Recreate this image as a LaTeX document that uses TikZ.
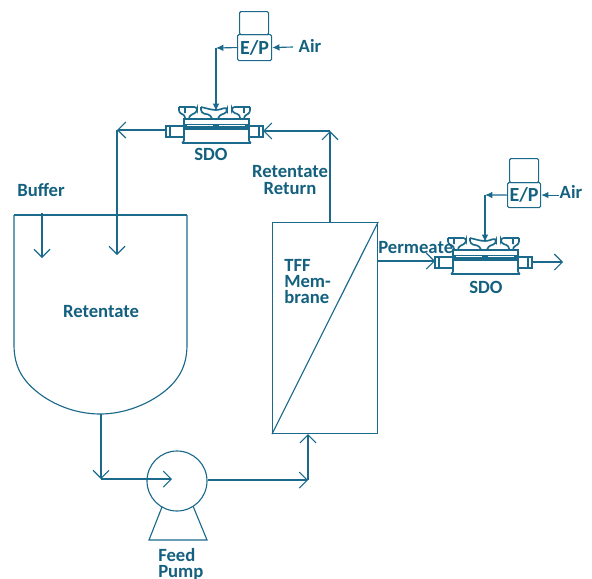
\documentclass[tikz,border=0pt]{standalone}
\usepackage{fontspec}
\setmainfont{Carlito}
\usetikzlibrary{arrows.meta}
\definecolor{ink}{HTML}{1B6A8C}
\definecolor{txt}{HTML}{14607F}
\tikzset{
  line/.style={draw=ink,line width=0.85pt},
  heavy/.style={draw=ink,line width=1.25pt},
  flow/.style={line,-{Straight Barb[length=6pt,width=12pt,line width=0.8pt]}},
  smallflow/.style={line,-{Latex[length=5.5pt,width=5pt]}},
  lab/.style={font=\bfseries\fontsize{14}{12}\selectfont,text=txt,inner sep=0pt},
  box/.style={line,rounded corners=1pt,inner sep=0pt,anchor=north west},
  sdounit/.pic={
    % lower body with feet
    \draw[heavy,rounded corners=0.6pt] (-34,12) -- (-32,10) -- (-32,-2) -- (33,-2) -- (33,10) -- (35,12) -- cycle;
    % upper plate with thick band
    \draw[heavy] (-32,-7) -- (-32,-12) -- (33,-12) -- (33,-7);
    \fill[ink] (-33,-7) rectangle (34,-3);
    \fill[white] (-29,-5.6) rectangle (-3,-4.6);
    \fill[white] (3,-5.6) rectangle (29,-4.6);
    % ports
    \draw[heavy] (-50,-5) rectangle (-32,6);
    \draw[heavy] (-46,-5) -- (-46,6);
    \draw[heavy] (33,-5) rectangle (47,6);
    \draw[heavy] (43,-5) -- (43,6);
    % knobs
    \draw[heavy,rounded corners=2pt] (-37,-24) -- (-19,-24) -- (-19,-19) -- (-27,-15) -- (-27,-12) (-37,-24) -- (-37,-18) -- (-31,-16) -- (-31,-12) (-31,-24) -- (-31,-18);
    \draw[heavy,rounded corners=2pt] (34,-24) -- (16,-24) -- (16,-19) -- (24,-16) -- (24,-12) (34,-24) -- (34,-18) -- (28,-15) -- (28,-12) (28,-24) -- (28,-18);
    \draw[heavy,rounded corners=2.5pt] (-15,-24) -- (-3,-21) -- (3,-21) -- (11,-24) -- (11,-18) -- (3,-16) -- (2,-12) (-15,-24) -- (-15,-18) -- (-5,-16) -- (-4,-12);
    \coordinate (-pl) at (-50,-1);
    \coordinate (-pr) at (47,0);
    \coordinate (-pt) at (0,-20);
  }
}
\begin{document}
\begin{tikzpicture}[x=0.75pt,y=-0.75pt]
\useasboundingbox (0,0) rectangle (592,578);
\clip (0,0) rectangle (592,578);
% SDO valves
\pic (a) at (216,131) {sdounit};
\pic (b) at (485,262) {sdounit};
% E/P top
\node[box,minimum width=29*0.75pt,minimum height=23*0.75pt] (ea) at (239,11) {};
\node[box,minimum width=34*0.75pt,minimum height=26*0.75pt,lab,font=\bfseries\fontsize{15}{12}\selectfont] (pa) at (237,34) {E/P};
\node[box,minimum width=29*0.75pt,minimum height=24*0.75pt] (eb) at (509,158) {};
\node[box,minimum width=33*0.75pt,minimum height=25*0.75pt,lab,font=\bfseries\fontsize{15}{12}\selectfont] (pb) at (507,182) {E/P};
% Labels
\node[lab] (aira) at (310,46) {Air};
\node[lab] (airb) at (571,192) {Air};
\node[lab] at (211,154) {SDO};
\node[lab] at (486,287) {SDO};
\node[lab,align=center] at (290,180) {Retentate\\[1pt]Return};
\node[lab] at (41,190) {Buffer};
\node[lab] at (101,312) {Retentate};
\node[lab,align=left,anchor=north west] at (284,259) {TFF\\Mem-\\brane};
\node[lab,anchor=west] at (378,248) {Permeate};
\node[lab,align=left,anchor=west] at (158,564) {Feed\\Pump};
% Tank
\coordinate (tl) at (14,215);
\coordinate (tr) at (187,215);
\coordinate (tb) at (100,414);
\draw[line] (tl) -- (tr);
\draw[line] (tl) -- (14,345) .. controls (14,368) and (24,381) .. (36,391) .. controls (54,406) and (78,414) .. (tb) .. controls (122,414) and (146,406) .. (165,391) .. controls (177,381) and (187,368) .. (187,345) -- (tr);
% Membrane
\node[line,rectangle,inner sep=0pt,anchor=north west,minimum width=105*0.75pt,minimum height=211*0.75pt] (mem) at (272,222) {};
\draw[line] (mem.south west) -- (mem.north east);
% Pump
\node[line,circle,inner sep=0pt,minimum size=60*0.75pt] (pump) at (177,481) {};
\coordinate (fl) at (149,540);
\coordinate (fr) at (207,540);
\draw[line] (162,507) -- (fl) -- (fr) -- (193,506);
% Connectors
\coordinate (bufs) at (42,213);
\coordinate (bufe) at (42,258);
\draw[flow] (bufs) -- (bufe);
\coordinate (rc) at (117,130);
\coordinate (re) at (117,255);
\draw[flow] (a-pl) -- (rc);
\draw[flow] (rc) -- (re);
\coordinate (oc) at (101,479);
\coordinate (ot) at (172,479);
\draw[flow] (tb-|oc) -- (oc);
\draw[flow] (oc) -- (ot);
\coordinate (fc) at (308,480);
\draw[flow] (pump.east|-fc) -- (fc);
\draw[flow] (fc) -- (fc|-mem.south);
\coordinate (rs) at (330,222);
\coordinate (rk) at (330,131);
\draw[flow] (rs) -- (rk);
\draw[flow] (rk) -- (a-pr);
\draw[flow] (mem.east|-b-pl) -- (b-pl);
\coordinate (out) at (563,262);
\draw[flow] (b-pr) -- (out);
\draw[smallflow] (293,47) -- (pa.east);
\draw[smallflow] (airb.west|-pb.east) -- (pb.east);
\coordinate (ka) at (216,48);
\coordinate (kb) at (485,195);
\draw[smallflow] (pa.west) -- (ka);
\draw[smallflow] (ka) -- (a-pt);
\draw[smallflow] (pb.west) -- (kb);
\draw[smallflow] (kb) -- (b-pt);
\end{tikzpicture}
\end{document}
